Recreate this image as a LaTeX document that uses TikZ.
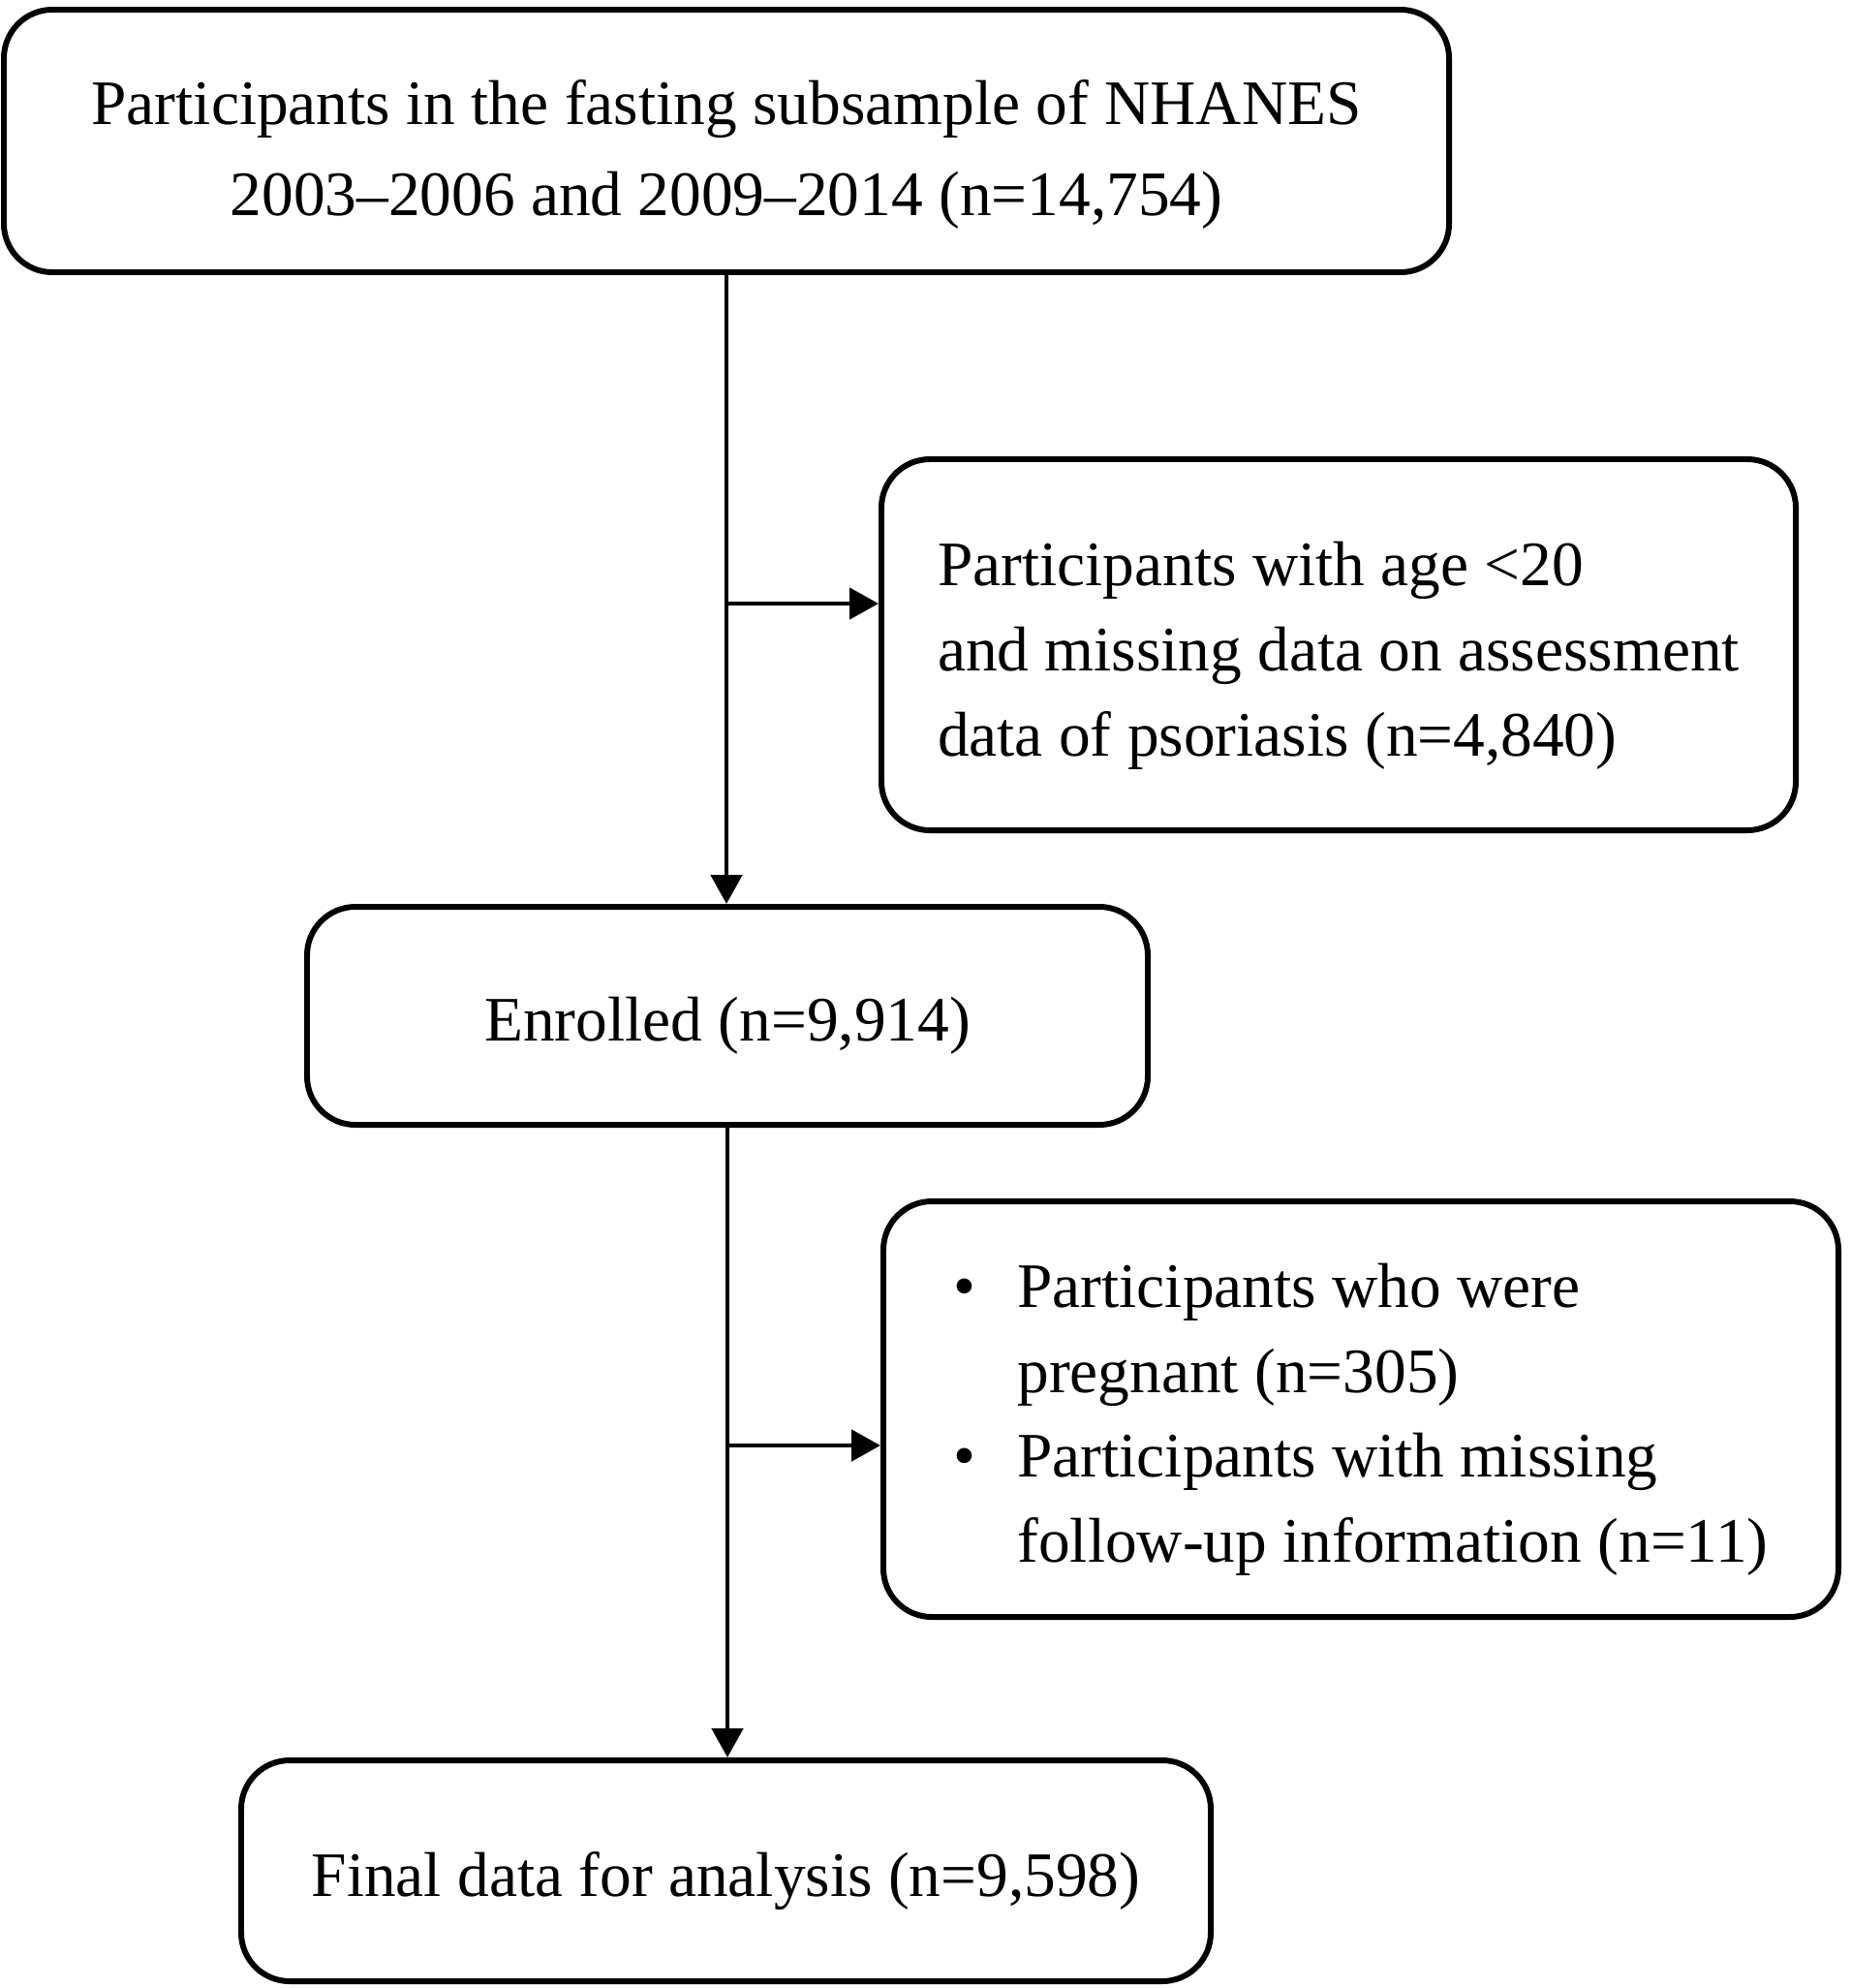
\documentclass[tikz,border=0pt]{standalone}
\usepackage{fontspec}
\setmainfont{Liberation Serif}
\usepackage{tikz}
\usetikzlibrary{positioning, arrows.meta}

\newcommand{\lift}[1]{\rule{0pt}{#1}}

\begin{document}
\begin{tikzpicture}[
    flowbox/.style={draw, line width=1.7pt, rounded corners=0.5cm, inner sep=0pt},
    flowarrow/.style={line width=1.4pt, -{Triangle[length=0.30cm, width=0.32cm]}},
    every node/.style={font=\fontsize{18.6}{25}\selectfont}]
  \useasboundingbox (0, 0) rectangle (19.10, -20.52);

  % main flow
  \node[flowbox, minimum width=14.92cm, minimum height=2.71cm, align=center,
        font=\fontsize{18.6}{27}\selectfont] (source) at (7.50, -1.455)
    {\lift{21pt}Participants in the fasting subsample of NHANES\\2003--2006 and 2009--2014 (n=14,754)};
  \node[flowbox, minimum width=8.68cm, minimum height=2.25cm] (enrolled) at (7.51, -10.485)
    {\lift{19pt}Enrolled (n=9,914)};
  \node[flowbox, minimum width=10.01cm, minimum height=2.28cm] (final) at (7.495, -19.31)
    {\lift{19pt}Final data for analysis (n=9,598)};

  % exclusions
  \node[flowbox, minimum width=9.44cm, minimum height=3.83cm, align=left] (excl1) at (13.82, -6.655)
    {\lift{19.5pt}Participants with age <20\\and missing data on assessment\\data of psoriasis (n=4,840)};
  \node[flowbox, minimum width=9.86cm, minimum height=4.29cm, align=left] (excl2) at (14.05, -14.545)
    {\lift{19pt}\makebox[0.66cm][l]{\textbullet}Participants who were\\
     \makebox[0.66cm]{}pregnant (n=305)\\
     \makebox[0.66cm][l]{\textbullet}Participants with missing\\
     \makebox[0.66cm]{}follow-up information (n=11)};

  % connectors
  \coordinate (split1) at (7.50, -6.23);
  \coordinate (split2) at (7.50, -14.92);
  \draw[flowarrow] (source.south) -- (source.south |- enrolled.north);
  \draw[flowarrow] (split1) -- (split1 -| excl1.west);
  \draw[flowarrow] (enrolled.south) -- (enrolled.south |- final.north);
  \draw[flowarrow] (split2) -- (split2 -| excl2.west);
\end{tikzpicture}
\end{document}
